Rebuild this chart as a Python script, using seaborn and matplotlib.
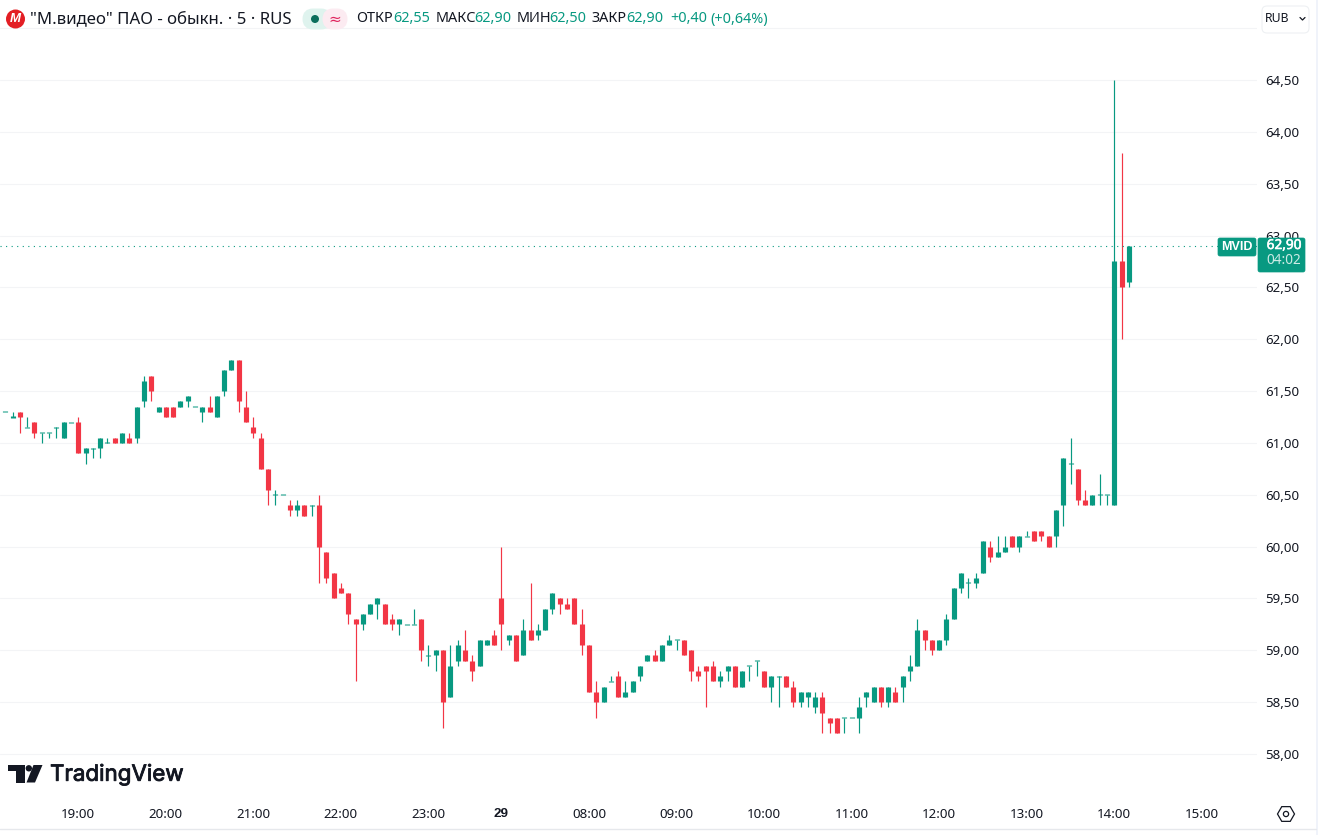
import numpy as np
import pandas as pd
import matplotlib
matplotlib.use("Agg")
import matplotlib.pyplot as plt
import matplotlib.patheffects as pe
from matplotlib.patches import Circle, FancyBboxPatch, Polygon, Rectangle, RegularPolygon
import seaborn as sns

# 5 min candles
opens = [61.30, 61.25, 61.30, 61.15, 61.20, 61.10, 61.10, 61.15, 61.05, 61.20,
         61.20, 60.90, 60.95, 60.95, 61.00, 61.05, 61.00, 61.05, 61.05, 61.40,
         61.65, 61.30, 61.35, 61.35, 61.35, 61.40, 61.35, 61.30, 61.35, 61.25,
         61.50, 61.70, 61.80, 61.35, 61.15, 61.05, 60.75, 60.50, 60.50, 60.40,
         60.35, 60.40, 60.40, 60.40, 59.95, 59.75, 59.60, 59.55, 59.30, 59.25,
         59.35, 59.45, 59.45, 59.30, 59.25, 59.25, 59.25, 59.30, 58.95, 58.95,
         59.00, 58.55, 58.90, 59.00, 58.90, 58.85, 59.05, 59.15, 59.50, 59.10,
         59.15, 58.95, 59.20, 59.15, 59.20, 59.40, 59.50, 59.45, 59.50, 59.25,
         59.05, 58.60, 58.50, 58.70, 58.75, 58.55, 58.60, 58.75, 58.90, 58.95,
         58.90, 59.05, 59.10, 59.10, 59.00, 58.80, 58.85, 58.85, 58.70, 58.80,
         58.85, 58.65, 58.85, 58.90, 58.80, 58.65, 58.75, 58.75, 58.65, 58.50,
         58.55, 58.45, 58.55, 58.35, 58.35, 58.35, 58.35, 58.35, 58.55, 58.50,
         58.65, 58.50, 58.60, 58.65, 58.80, 58.85, 59.20, 59.10, 59.00, 59.10,
         59.30, 59.60, 59.65, 59.65, 59.75, 60.00, 59.90, 59.95, 60.10, 60.00,
         60.10, 60.15, 60.15, 60.10, 60.10, 60.40, 60.80, 60.75, 60.45, 60.40,
         60.50, 60.50, 60.40, 62.75, 62.55]
highs = [61.30, 61.30, 61.30, 61.25, 61.20, 61.10, 61.10, 61.15, 61.20, 61.20,
         61.25, 60.95, 60.95, 61.05, 61.05, 61.05, 61.10, 61.10, 61.35, 61.65,
         61.65, 61.35, 61.35, 61.35, 61.40, 61.45, 61.35, 61.35, 61.45, 61.45,
         61.70, 61.80, 61.80, 61.50, 61.25, 61.10, 60.75, 60.55, 60.50, 60.45,
         60.45, 60.40, 60.40, 60.50, 59.95, 59.75, 59.65, 59.55, 59.30, 59.35,
         59.45, 59.50, 59.45, 59.35, 59.30, 59.25, 59.40, 59.30, 59.05, 59.00,
         59.00, 59.05, 59.10, 59.20, 58.95, 59.10, 59.10, 59.20, 60.00, 59.15,
         59.15, 59.30, 59.65, 59.25, 59.40, 59.55, 59.50, 59.50, 59.50, 59.40,
         59.05, 58.70, 58.65, 58.75, 58.80, 58.70, 58.70, 58.85, 58.95, 59.00,
         59.05, 59.15, 59.10, 59.10, 59.00, 58.85, 58.85, 58.90, 58.80, 58.85,
         58.85, 58.80, 58.85, 58.90, 58.80, 58.75, 58.75, 58.75, 58.70, 58.60,
         58.60, 58.60, 58.60, 58.35, 58.35, 58.35, 58.35, 58.55, 58.60, 58.65,
         58.65, 58.65, 58.65, 58.75, 58.95, 59.30, 59.20, 59.10, 59.10, 59.35,
         59.60, 59.75, 59.70, 59.75, 60.05, 60.05, 60.10, 60.10, 60.10, 60.10,
         60.15, 60.15, 60.15, 60.10, 60.35, 60.85, 61.05, 60.75, 60.55, 60.50,
         60.70, 60.50, 64.50, 63.80, 62.90]
lows = [61.30, 61.25, 61.10, 61.15, 61.05, 61.00, 61.05, 61.05, 61.05, 61.20,
        60.90, 60.80, 60.85, 60.85, 61.00, 61.00, 61.00, 61.00, 61.00, 61.35,
        61.40, 61.30, 61.25, 61.25, 61.35, 61.35, 61.35, 61.20, 61.30, 61.25,
        61.45, 61.70, 61.30, 61.20, 61.05, 60.75, 60.40, 60.40, 60.50, 60.30,
        60.30, 60.30, 60.30, 59.65, 59.65, 59.50, 59.55, 59.25, 58.70, 59.20,
        59.35, 59.30, 59.25, 59.20, 59.15, 59.25, 59.25, 58.90, 58.85, 58.80,
        58.25, 58.55, 58.85, 58.90, 58.70, 58.85, 59.05, 59.05, 59.00, 59.05,
        58.90, 58.95, 59.10, 59.10, 59.20, 59.35, 59.35, 59.40, 59.25, 58.95,
        58.60, 58.35, 58.50, 58.70, 58.55, 58.55, 58.60, 58.70, 58.90, 58.90,
        58.90, 59.05, 59.00, 58.95, 58.70, 58.70, 58.45, 58.70, 58.65, 58.70,
        58.65, 58.65, 58.70, 58.75, 58.65, 58.50, 58.45, 58.65, 58.45, 58.45,
        58.45, 58.40, 58.20, 58.20, 58.20, 58.20, 58.35, 58.20, 58.45, 58.50,
        58.45, 58.45, 58.50, 58.50, 58.70, 58.85, 59.00, 58.95, 59.00, 59.05,
        59.30, 59.55, 59.50, 59.60, 59.75, 59.85, 59.90, 59.95, 60.00, 59.95,
        60.10, 60.05, 60.05, 60.00, 60.00, 60.20, 60.60, 60.40, 60.40, 60.40,
        60.40, 60.40, 60.40, 62.00, 62.50]
closes = [61.30, 61.25, 61.25, 61.15, 61.10, 61.10, 61.10, 61.15, 61.20, 61.20,
          60.90, 60.95, 60.95, 61.05, 61.00, 61.00, 61.10, 61.00, 61.35, 61.60,
          61.50, 61.35, 61.25, 61.25, 61.40, 61.45, 61.35, 61.35, 61.30, 61.45,
          61.70, 61.80, 61.40, 61.20, 61.10, 60.75, 60.55, 60.50, 60.50, 60.35,
          60.40, 60.30, 60.40, 60.00, 59.70, 59.50, 59.55, 59.35, 59.25, 59.35,
          59.45, 59.50, 59.25, 59.25, 59.30, 59.25, 59.25, 59.00, 58.95, 59.00,
          58.50, 58.85, 59.05, 58.90, 58.80, 59.10, 59.10, 59.05, 59.25, 59.15,
          58.90, 59.20, 59.10, 59.20, 59.40, 59.55, 59.45, 59.40, 59.25, 59.05,
          58.60, 58.50, 58.65, 58.70, 58.55, 58.60, 58.70, 58.85, 58.95, 58.90,
          59.05, 59.10, 59.10, 58.95, 58.80, 58.75, 58.80, 58.70, 58.75, 58.85,
          58.65, 58.80, 58.85, 58.90, 58.65, 58.75, 58.75, 58.65, 58.50, 58.60,
          58.60, 58.55, 58.40, 58.30, 58.20, 58.35, 58.35, 58.45, 58.60, 58.65,
          58.50, 58.65, 58.50, 58.75, 58.85, 59.20, 59.10, 59.00, 59.10, 59.30,
          59.60, 59.75, 59.65, 59.70, 60.05, 59.90, 59.95, 60.00, 60.00, 60.10,
          60.10, 60.05, 60.10, 60.00, 60.35, 60.85, 60.80, 60.45, 60.40, 60.50,
          60.50, 60.50, 62.75, 62.50, 62.90]

time_ticks = [10, 22, 34, 46, 58, 68, 80, 92, 104, 116, 128, 140, 152, 164]
time_labels = ["19:00", "20:00", "21:00", "22:00", "23:00", "29", "08:00", "09:00",
               "10:00", "11:00", "12:00", "13:00", "14:00", "15:00"]
price_ticks = [58.0, 58.5, 59.0, 59.5, 60.0, 60.5, 61.0, 61.5, 62.0, 62.5, 63.0, 63.5, 64.0, 64.5, 65.0]
last_price = 62.90

GREEN = "#089981"
RED = "#F23645"
INK = "#131722"
W, H = 1318, 835

df = pd.DataFrame({"open": opens, "high": highs, "low": lows, "close": closes})
df["bar"] = df.index
df["dir"] = np.where(df["close"] >= df["open"], "up", "down")
# doji still needs a visible body
df["top"] = df[["open", "close"]].max(axis=1) + 0.005 * (df["open"] == df["close"])
df["bot"] = df[["open", "close"]].min(axis=1) - 0.005 * (df["open"] == df["close"])

wicks = df.melt(id_vars=["bar", "dir"], value_vars=["high", "low"], value_name="price")
bodies = df.melt(id_vars=["bar", "dir"], value_vars=["top", "bot"], value_name="price")
pal = {"up": GREEN, "down": RED}

sns.set_theme(style="white", rc={"axes.grid": True, "grid.color": "#F3F4F6", "grid.linewidth": 0.75})
plt.rcParams["font.family"] = ["Noto Sans", "DejaVu Sans"]

fig = plt.figure(figsize=(W / 100, H / 100), dpi=100, facecolor="white")

top_px, bot_px = 20, 795
ax = fig.add_axes([0, 1 - bot_px / H, 1257 / W, (bot_px - top_px) / H])
ax.set_facecolor("white")

sns.lineplot(data=wicks, x="bar", y="price", hue="dir", units="bar", estimator=None, palette=pal,
             linewidth=0.85, legend=False, ax=ax, solid_capstyle="butt")
sns.lineplot(data=bodies, x="bar", y="price", hue="dir", units="bar", estimator=None, palette=pal,
             linewidth=3.7, legend=False, ax=ax, solid_capstyle="butt")
ax.axhline(last_price, color=GREEN, lw=0.8, ls=(0, (1, 4)))

to_price = lambda py: 58 + (754 - py) / 103.69
ax.set_ylim(to_price(bot_px), to_price(top_px))
ax.set_xlim(-5.3 / 7.296, (1257 - 5.3) / 7.296)
ax.set_xlabel("")
ax.set_ylabel("")
sns.despine(ax=ax, left=True, bottom=True)

ax.yaxis.tick_right()
ax.set_yticks(price_ticks)
ax.set_yticklabels([f"{p:.2f}".replace(".", ",") if p < 65 else "" for p in price_ticks])
ax.set_xticks(time_ticks)
ax.set_xticklabels(time_labels)
ax.tick_params(axis="y", length=0, pad=5.8, labelsize=9.6, labelcolor=INK)
ax.tick_params(axis="x", length=0, pad=9.5, labelsize=9.6, labelcolor=INK)
ax.xaxis.grid(False)
for lab in ax.get_yticklabels():
    lab.set_verticalalignment("center_baseline")
lab29 = ax.get_xticklabels()[time_labels.index("29")]
lab29.set_family("Liberation Sans")
lab29.set_fontweight("bold")

# chrome in pixel coords on top of the chart
ov = fig.add_axes([0, 0, 1, 1], zorder=5)
ov.set_xlim(0, W)
ov.set_ylim(H, 0)
ov.axis("off")
ov.patch.set_alpha(0)

# header
ov.add_patch(Circle((15.5, 19), 9.5, color="#E31E24", lw=0))
ov.text(15.5, 19, "М", color="white", fontsize=9.5, fontweight="bold", style="italic",
        family="Liberation Sans", ha="center", va="center")
ov.text(30, 19, "\"М.видео\" ПАО - обыкн. · 5 · RUS", color=INK, fontsize=12.1, va="center")
ov.add_patch(FancyBboxPatch((306, 12), 22, 14, boxstyle="round,pad=0,rounding_size=7", fc="#DFF3EE", ec="#DFF3EE", lw=5))
ov.add_patch(FancyBboxPatch((326, 12), 18, 14, boxstyle="round,pad=0,rounding_size=7", fc="#FCEBF1", ec="#FCEBF1", lw=5))
ov.add_patch(Circle((315, 19), 4, color="#0B6E5C", lw=0))
ov.text(335, 19, "≈", color="#E0245E", fontsize=11, ha="center", va="center", family="DejaVu Sans")

header = [(356, "ОТКР", INK), (393, "62,55", GREEN), (436, "МАКС", INK), (474, "62,90", GREEN),
          (517, "МИН", INK), (549, "62,50", GREEN), (591, "ЗАКР", INK), (626, "62,90", GREEN),
          (670, "+0,40", GREEN), (710, "(+0,64%)", GREEN)]
for x, txt, col in header:
    ov.text(x, 19, txt, color=col, fontsize=10.4, va="center")

# currency button
ov.add_patch(FancyBboxPatch((1262, 6), 47, 27, boxstyle="round,pad=0,rounding_size=5", fc="white", ec="#EEF0F3", lw=0.8))
ov.text(1265, 18, "RUB", color=INK, fontsize=8.8, va="center")
ov.plot([1300, 1302.5, 1305], [17.5, 20, 17.5], color=INK, lw=0.9)

# last price tags
bold_line = [pe.withStroke(linewidth=0.4, foreground="white")]
ov.add_patch(FancyBboxPatch((1218, 238), 38, 18, boxstyle="round,pad=0,rounding_size=2", fc=GREEN, ec=GREEN, lw=0.5))
ov.add_patch(FancyBboxPatch((1258, 238), 47, 34, boxstyle="round,pad=0,rounding_size=2", fc=GREEN, ec=GREEN, lw=0.5))
ov.text(1236.5, 247, "MVID", color="white", fontsize=9, fontweight="bold", family="Liberation Sans",
        ha="center", va="center")
ov.text(1284, 245.5, "62,90", color="white", fontsize=9.8, ha="center", va="center", path_effects=bold_line)
ov.text(1284, 261, "04:02", color="#CDEBE5", fontsize=9.8, ha="center", va="center")

# TradingView mark
ov.add_patch(Polygon([(8.3, 765), (25, 765), (25, 782.5), (16, 782.5), (16, 771), (8.3, 771)], fc=INK, ec="none"))
ov.add_patch(Circle((28.8, 768.3), 3.2, fc=INK, ec="none"))
ov.add_patch(Polygon([(33.5, 765), (42.5, 765), (35, 782.5), (26.5, 782.5)], fc=INK, ec="none"))
ov.text(50, 774.5, "TradingView", color=INK, fontsize=16.1, family="Inter", va="center",
        path_effects=[pe.withStroke(linewidth=0.6, foreground=INK)])

# settings icon, bottom rule, edge strip
ov.add_patch(RegularPolygon((1286, 814), 6, radius=8.5, orientation=np.pi / 6, fc="none", ec=INK, lw=0.9))
ov.add_patch(Circle((1286, 814), 2.6, fc="none", ec=INK, lw=0.9))
ov.plot([0, 1316], [829, 829], color="#E6E8EC", lw=1)
ov.add_patch(Rectangle((1316, 0), 2, H, fc="#F0F3FA", ec="none"))

fig.savefig("out.png", dpi=100)
